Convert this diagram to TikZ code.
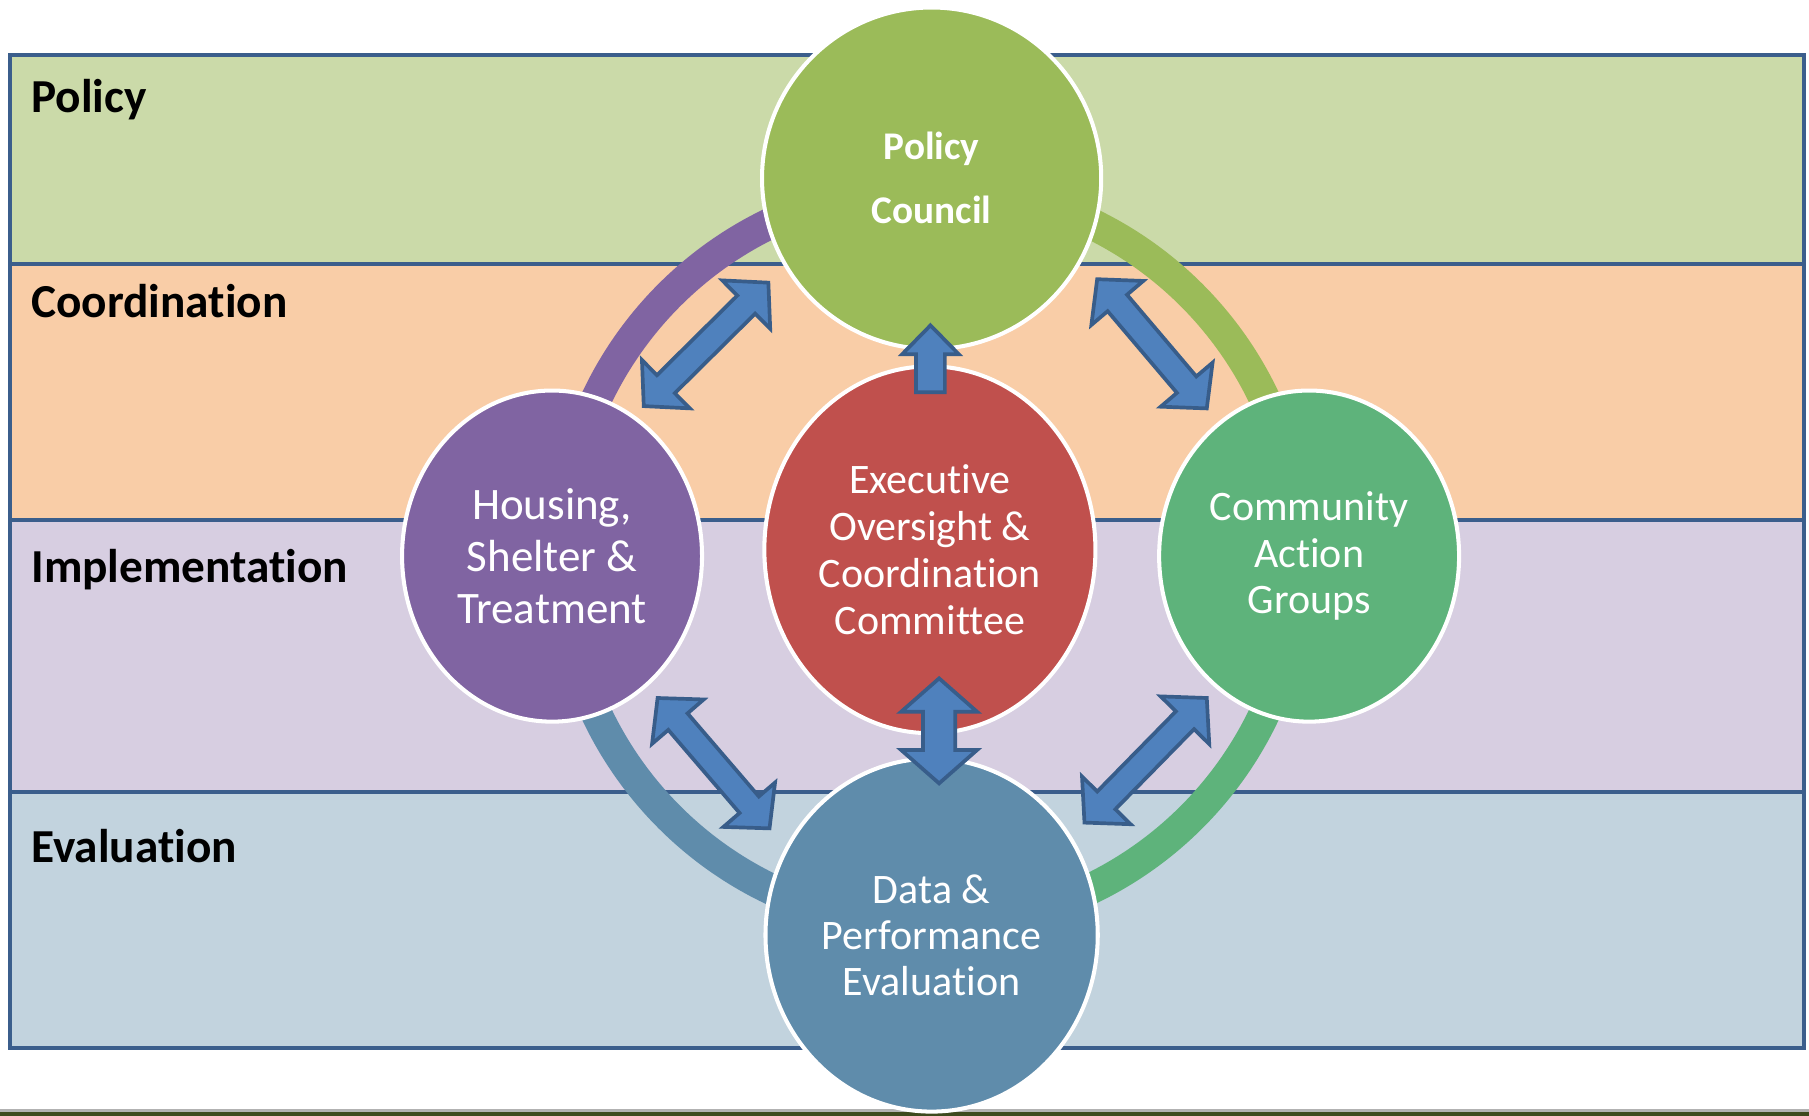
\documentclass[tikz,border=0pt]{standalone}
\usepackage{fontspec}
\setmainfont{Carlito}[Ligatures={NoCommon}]
\usetikzlibrary{calc,shapes.geometric}

\definecolor{bandPolicy}{HTML}{CBDAA9}
\definecolor{bandCoord}{HTML}{F9CDA7}
\definecolor{bandImpl}{HTML}{D7CEE1}
\definecolor{bandEval}{HTML}{C2D3DE}
\definecolor{frameBlue}{HTML}{3B5E8C}
\definecolor{councilC}{HTML}{9BBB59}
\definecolor{execC}{HTML}{C0504D}
\definecolor{housingC}{HTML}{8064A2}
\definecolor{communityC}{HTML}{5EB37B}
\definecolor{dataC}{HTML}{5F8CAB}
\definecolor{arrowFill}{HTML}{4F81BD}
\definecolor{arrowLine}{HTML}{385D8A}
\definecolor{stripOlive}{HTML}{3D4A1E}

% double-headed block arrow between two tips:
% #1,#2 tips, #3 shaft half-width, #4 head half-width, #5 head length
\newcommand{\dblblock}[5]{%
  \coordinate (bbA) at ($(#1)!#5!(#2)$);
  \coordinate (bbB) at ($(#2)!#5!(#1)$);
  \filldraw[blockarrow] (#1)
    -- ($(bbA)!#4!90:(#2)$) -- ($(bbA)!#3!90:(#2)$)
    -- ($(bbB)!#3!-90:(#1)$) -- ($(bbB)!#4!-90:(#1)$)
    -- (#2)
    -- ($(bbB)!#4!90:(#1)$) -- ($(bbB)!#3!90:(#1)$)
    -- ($(bbA)!#3!-90:(#2)$) -- ($(bbA)!#4!-90:(#2)$)
    -- cycle;}
% single-headed block arrow: #1 tail, #2 tip
\newcommand{\oneblock}[5]{%
  \coordinate (bbA) at ($(#2)!#5!(#1)$);
  \filldraw[blockarrow] (#2)
    -- ($(bbA)!#4!90:(#1)$) -- ($(bbA)!#3!90:(#1)$)
    -- ($(#1)!#3!-90:(#2)$) -- ($(#1)!#3!90:(#2)$)
    -- ($(bbA)!#3!-90:(#1)$) -- ($(bbA)!#4!-90:(#1)$)
    -- cycle;}

\begin{document}
\begin{tikzpicture}[x=1pt,y=-1pt,
  frameline/.style={draw=frameBlue, line width=3.6pt},
  lanelabel/.style={anchor=base west, inner sep=0pt, font=\fontsize{41}{48}\selectfont\bfseries, text=black},
  bubble/.style={ellipse, draw=white, line width=3.5pt, inner sep=0pt, text=white, align=center},
  ringarc/.style={line width=27pt},
  blockarrow/.style={fill=arrowFill, draw=arrowLine, line width=3.2pt, line join=miter}]

\useasboundingbox (0,0) rectangle (1568,967);
\fill[white] (0,0) rectangle (1568,967);

% horizontal bands
\fill[bandPolicy] (9,48) rectangle (1564,229);
\fill[bandCoord]  (9,229) rectangle (1564,450.5);
\fill[bandImpl]   (9,450.5) rectangle (1564,686.5);
\fill[bandEval]   (9,686.5) rectangle (1564,908.5);
\draw[frameline] (9,48) rectangle (1564,908.5);
\draw[frameline] (9,229) -- (1564,229);
\draw[frameline] (9,450.5) -- (1564,450.5);
\draw[frameline] (9,686.5) -- (1564,686.5);

\node[lanelabel] (lblPolicy) at (27,97.5) {Policy};
\node[lanelabel] (lblCoord) at (27,275.5) {Coordination};
\node[lanelabel] (lblImpl) at (27,505) {Implementation};
\node[lanelabel] (lblEval) at (27,748) {Evaluation};

% footer strip
\fill[gray!60] (0,961.5) rectangle (1568,963.5);
\fill[stripOlive] (0,963.5) rectangle (1568,967);

% cycle ring
\coordinate (hub) at (806.5,482);
\draw[ringarc, housingC]   ($(hub)+(180:320)$) arc[start angle=180, end angle=270, radius=320];
\draw[ringarc, councilC]   ($(hub)+(270:320)$) arc[start angle=270, end angle=360, radius=320];
\draw[ringarc, communityC] ($(hub)+(0:320)$)   arc[start angle=0,   end angle=90,  radius=320];
\draw[ringarc, dataC]      ($(hub)+(90:320)$)  arc[start angle=90,  end angle=180, radius=320];

% circles
\node[bubble, fill=councilC, minimum width=294pt, minimum height=296pt,
      font=\fontsize{34}{55.5}\selectfont\bfseries] (council) at (807.5,154.5) {Policy\\Council};
\node[bubble, fill=execC, minimum width=287pt, minimum height=318pt,
      font=\fontsize{36.4}{41}\selectfont] (exec) at (806,476.5) {Executive\\Oversight \&\\Coordination\\Committee};
\node[bubble, fill=housingC, minimum width=260pt, minimum height=287pt,
      font=\fontsize{39}{45}\selectfont] (housing) at (478.5,482) {Housing,\\Shelter \&\\Treatment};
\node[bubble, fill=communityC, minimum width=260pt, minimum height=287pt,
      font=\fontsize{36.4}{40.5}\selectfont] (community) at (1134.7,482) {Community\\Action\\Groups};
\node[bubble, fill=dataC, minimum width=288pt, minimum height=306pt,
      font=\fontsize{36.4}{40}\selectfont] (data) at (807.5,810.5) {Data \&\\Performance\\Evaluation};

% arrow tips
\coordinate (hcA) at (558,352);  \coordinate (hcB) at (666,245);
\coordinate (ccA) at (951,242);  \coordinate (ccB) at (1046,354);
\coordinate (hdA) at (570,605);  \coordinate (hdB) at (667,718);
\coordinate (cdA) at (1046,605); \coordinate (cdB) at (940,713);
\coordinate (edA) at (814,588);  \coordinate (edB) at (814,679);
\coordinate (ecTail) at (806.5,340); \coordinate (ecTip) at (806.5,282);

\dblblock{hcA}{hcB}{11pt}{29.5pt}{27pt}
\dblblock{ccA}{ccB}{11pt}{29.5pt}{27pt}
\dblblock{hdA}{hdB}{11pt}{29.5pt}{27pt}
\dblblock{cdA}{cdB}{11pt}{29.5pt}{27pt}
\dblblock{edA}{edB}{14pt}{33pt}{29pt}
\oneblock{ecTail}{ecTip}{12.5pt}{24.5pt}{25pt}

\end{tikzpicture}
\end{document}
